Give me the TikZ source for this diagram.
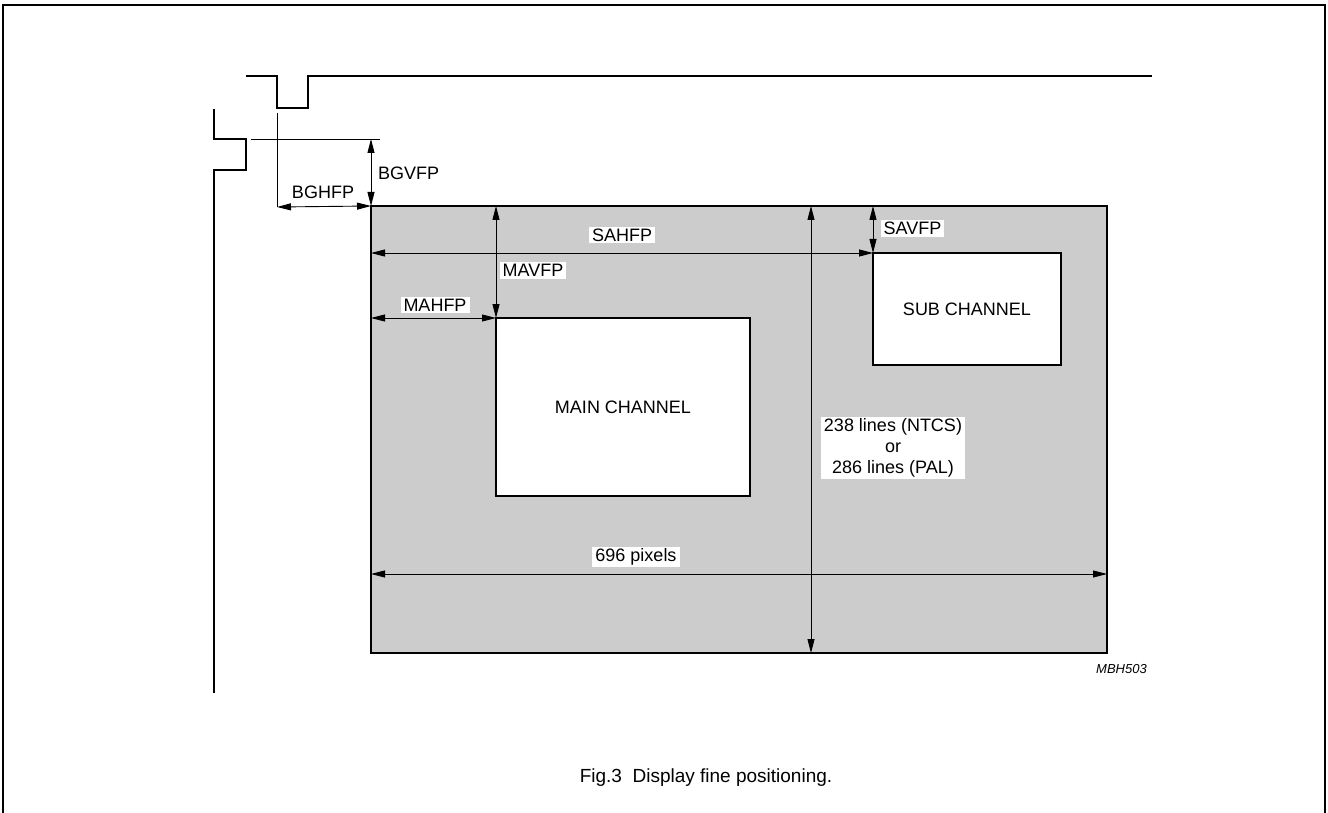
\documentclass[tikz,border=0pt]{standalone}
\usepackage{fontspec}
\setmainfont{Liberation Sans}
\usetikzlibrary{arrows.meta}
\definecolor{screengrey}{RGB}{204,204,204}
\begin{document}
\begin{tikzpicture}[x=1pt,y=-1pt,
  frameline/.style={line width=1.3pt},
  thickline/.style={line width=2.4pt},
  thinline/.style={line width=0.9pt},
  dim/.style={line width=0.9pt, {Triangle[length=14pt,width=7pt]}-{Triangle[length=14pt,width=7pt]}},
  lbl/.style={inner xsep=3pt, inner ysep=2pt, font=\fontsize{18}{21}\selectfont},
  wlbl/.style={lbl, fill=white},
  box/.style={draw, line width=2.4pt, inner sep=0pt, outer sep=0pt, font=\fontsize{18}{21}\selectfont, align=center}
]
\useasboundingbox (0,0) rectangle (1328,813);
% outer frame
\draw[frameline] (3,813) -- (3,5) -- (1325,5) -- (1325,813);
% screen and windows
\node[box, fill=screengrey, minimum width=736pt, minimum height=447pt] (screen) at (739,429.5) {};
\node[box, fill=white, minimum width=254pt, minimum height=178pt] (main) at (623,407) {MAIN CHANNEL};
\node[box, fill=white, minimum width=188pt, minimum height=112pt] (sub) at (967,309) {SUB CHANNEL};
% sync waveforms
\draw[thickline] (246,76) -- (277,76) -- (277,108) -- (308,108) -- (308,76) -- (1152,76);
\draw[thickline] (214,109) -- (214,139) -- (246,139) -- (246,170) -- (214,170) -- (214,693);
% reference guides
\coordinate (vtop) at (277,113);
\coordinate (hleft) at (251,139);
\coordinate (hright) at (380,139);
\coordinate (bgv) at (371,139);
\coordinate (bgh) at (277,207);
\coordinate (ht) at (811,0);
\coordinate (wd) at (0,574);
\draw[thinline] (vtop) -- (bgh);
\draw[thinline] (hleft) -- (hright);
% dimension arrows
\draw[dim] (bgv) -- (screen.north west);
\draw[dim] (bgh) -- (screen.north west);
\draw[dim] (main.north west |- screen.north) -- (main.north west);
\draw[dim] (screen.west |- main.north west) -- (main.north west);
\draw[dim] (screen.west |- sub.north west) -- (sub.north west);
\draw[dim] (sub.north west |- screen.north) -- (sub.north west);
\draw[dim] (screen.north -| ht) -- (screen.south -| ht);
\draw[dim] (screen.west |- wd) -- (screen.east |- wd);
% labels
\node[lbl, anchor=west] (lbgvfp) at (375,173) {BGVFP};
\node[lbl] (lbghfp) at (323,192) {BGHFP};
\node[wlbl] (lsahfp) at (622,235) {SAHFP};
\node[wlbl] (lmavfp) at (533,270.5) {MAVFP};
\node[wlbl] (lmahfp) at (435,305) {MAHFP};
\node[wlbl] (lsavfp) at (912.5,228.5) {SAVFP};
\node[wlbl, align=center] (llines) at (893,448) {238 lines (NTCS)\\or\\286 lines (PAL)};
\node[wlbl] (lpix) at (636,557) {696 pixels};
\node[anchor=east, inner sep=0pt, font=\fontsize{13}{15}\selectfont\itshape] (code) at (1147,669) {MBH503};
\node[inner sep=0pt, font=\fontsize{19}{23}\selectfont] (caption) at (706,778) {Fig.3\ \ Display fine positioning.};
\end{tikzpicture}
\end{document}
